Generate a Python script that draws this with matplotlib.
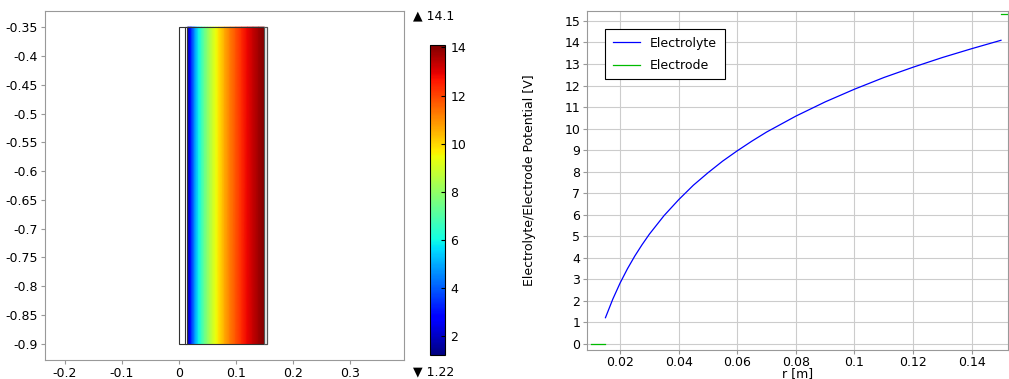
import numpy as np
import matplotlib
matplotlib.use("Agg")
import matplotlib.pyplot as plt
from matplotlib.patches import Rectangle

# potential in electrolyte
r = [0.015, 0.0175, 0.02, 0.0225, 0.025, 0.0275, 0.03, 0.035, 0.04, 0.045,
     0.05, 0.055, 0.06, 0.065, 0.07, 0.08, 0.09, 0.1, 0.11, 0.12, 0.13, 0.14, 0.15]
phi = [1.22, 2.08, 2.83, 3.49, 4.08, 4.61, 5.1, 5.96, 6.7, 7.37,
       7.95, 8.49, 8.97, 9.42, 9.84, 10.58, 11.24, 11.83, 12.37, 12.85, 13.3, 13.71, 14.1]

# electrode potentials
r_inner = [0.01, 0.015]
phi_inner = [0.0, 0.0]
r_outer = [0.15, 0.155]
phi_outer = [15.3, 15.3]

z_bot, z_top = -0.9, -0.35
vmin, vmax = 1.22, 14.1

plt.rcParams['font.family'] = 'DejaVu Sans'
plt.rcParams['font.size'] = 9

fig = plt.figure(figsize=(10.09, 3.79), dpi=100)

# ---- left: surface plot
ax1 = fig.add_axes([45/1009, 19/379, 359/1009, 349/379])
R, Z = np.meshgrid(np.array(r), np.array([z_bot, z_top]))
P = np.vstack([phi, phi])
mesh = ax1.pcolormesh(R, Z, P, cmap='jet', vmin=vmin, vmax=vmax, shading='gouraud')
ax1.add_patch(Rectangle((0, z_bot), 0.155, z_top - z_bot, fill=False, ec='#333333', lw=0.8))
ax1.add_patch(Rectangle((0.01, z_bot), 0.005, z_top - z_bot, fc='white', ec='#333333', lw=0.8))
ax1.add_patch(Rectangle((0.15, z_bot), 0.005, z_top - z_bot, fc='#e8e8e8', ec='#555555', lw=0.8))
ax1.set_xlim(-0.235, 0.395)
ax1.set_ylim(-0.928, -0.322)
ax1.set_xticks([-0.2, -0.1, 0, 0.1, 0.2, 0.3])
ax1.set_xticklabels(['-0.2', '-0.1', '0', '0.1', '0.2', '0.3'])
yt = [-0.35, -0.4, -0.45, -0.5, -0.55, -0.6, -0.65, -0.7, -0.75, -0.8, -0.85, -0.9]
ax1.set_yticks(yt)
ax1.set_yticklabels([('%g' % v) for v in yt])
for s in ax1.spines.values():
    s.set_color('#999999')
ax1.tick_params(colors='#999999', labelcolor='black', length=3, pad=2)

# colorbar
cax = fig.add_axes([430/1009, 24/379, 15/1009, 310/379])
cb = fig.colorbar(mesh, cax=cax, ticks=[2, 4, 6, 8, 10, 12, 14])
cb.outline.set_linewidth(0.8)
cax.tick_params(direction='in', length=3, width=0.8, pad=4)
fig.text(413/1009, 1 - 16/379, '\u25b2 14.1', fontsize=9, va='center', ha='left')
fig.text(413/1009, 1 - 372/379, '\u25bc 1.22', fontsize=9, va='center', ha='left')

# ---- right: line plot
ax2 = fig.add_axes([587/1009, 29/379, 421/1009, 339/379])
ax2.plot(r, phi, color='#0000ff', lw=0.9, label='Electrolyte')
ax2.plot(r_inner, phi_inner, color='#00bb00', lw=0.9, label='Electrode')
ax2.plot(r_outer, phi_outer, color='#00bb00', lw=0.9)
ax2.set_xlim(0.0087, 0.1524)
ax2.set_ylim(-0.28, 15.46)
ax2.set_xticks([0.02, 0.04, 0.06, 0.08, 0.1, 0.12, 0.14])
ax2.set_xticklabels(['0.02', '0.04', '0.06', '0.08', '0.1', '0.12', '0.14'])
ax2.set_yticks(range(16))
ax2.grid(True, color='#cccccc', lw=0.8)
for s in ax2.spines.values():
    s.set_color('#999999')
ax2.tick_params(colors='#999999', labelcolor='black', length=3, pad=2)
ax2.tick_params(axis='x', pad=1)
ax2.set_xlabel('r [m]')
ax2.xaxis.set_label_coords(0.5, -0.05)
ax2.set_ylabel('Electrolyte/Electrode Potential [V]', labelpad=20)
leg = ax2.legend(loc='upper left', bbox_to_anchor=(0.028, 0.965), fancybox=False,
                 edgecolor='black', framealpha=1, fontsize=9, handlelength=2.2,
                 labelspacing=0.75, borderpad=0.6)
leg.get_frame().set_linewidth(0.8)

fig.savefig('out.png', dpi=100)
